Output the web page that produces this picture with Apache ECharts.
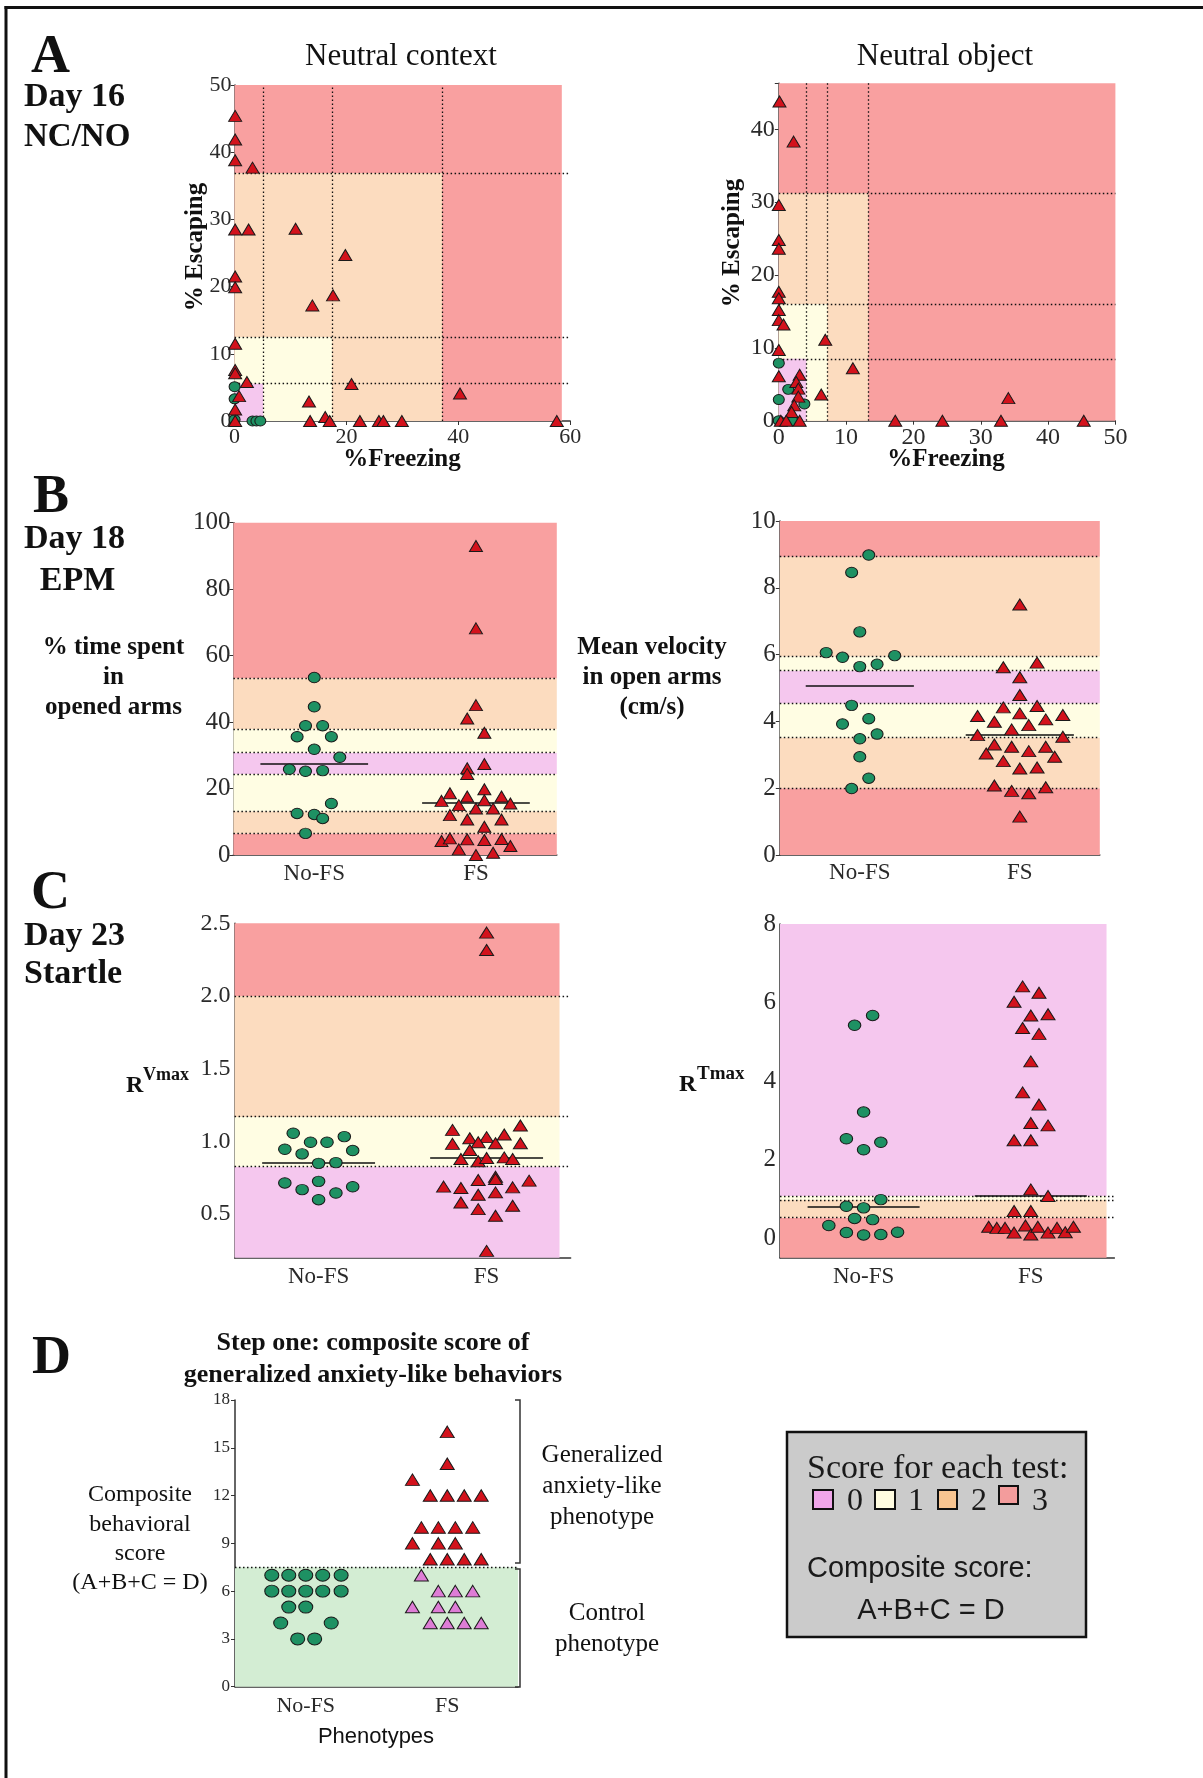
<!DOCTYPE html>
<html><head><meta charset="utf-8">
<script src="https://cdn.jsdelivr.net/npm/echarts/dist/echarts.min.js"></script>
<style>html,body{margin:0;padding:0;background:#fff}#c{width:1203px;height:1778px}</style>
</head><body><div id="c"></div>
<script>
// ---------------- DATA ----------------
const groups = ['No-FS', 'FS'];

// A – Neutral context: [ %Freezing, %Escaping ]
const ctxFS = [[0.1,45.4],[0.1,41.9],[0.1,38.8],[3.2,37.7],[0.1,28.5],[2.5,28.5],[10.9,28.6],[19.8,24.7],[0.1,21.5],[0.1,19.9],[17.6,18.7],[13.9,17.2],[0.1,11.5],[0.1,7.6],[0.1,7.1],[2.2,5.8],[20.9,5.5],[0.8,3.7],[13.3,2.9],[40.3,4.1],[0.1,1.7],[0.1,0],[13.5,0],[16.2,0.6],[17.0,0],[22.4,0],[25.8,0],[26.6,0],[29.9,0],[57.6,0]];
const ctxNoFS = [[0,5.1],[0,3.3],[0,0.2],[3.2,0],[3.9,0],[4.6,0]];
const ctxFreezeCuts = [5.1, 17.4, 37.1];
const ctxEscapeCuts = [5.55, 12.5, 36.9];

// A – Neutral object
const objFS = [[0.1,43.8],[2.2,38.3],[0,29.6],[0,24.8],[0,23.6],[0,17.7],[0,16.8],[0,15.2],[0,13.8],[0.7,13.2],[0,9.7],[6.9,11.1],[11.0,7.2],[0,6.1],[3.1,6.3],[2.6,5.3],[2.9,4.4],[6.3,3.6],[2.9,3.3],[2.3,2.1],[1.9,1.2],[34.1,3.1],[17.3,0],[24.3,0],[33.0,0],[45.3,0],[0.3,0],[1.1,0],[3.1,0]];
const objNoFS = [[0,7.9],[1.4,4.3],[0,2.9],[3.8,2.3],[0,0],[2,0]];
const objFreezeCuts = [4.1, 7.2, 13.3];
const objEscapeCuts = [8.5, 16.0, 31.2];

// B – EPM % time in open arms
const epmTimeNoFS = [53.4,44.6,38.9,38.9,35.6,35.6,31.8,29.4,25.8,25.2,25.4,15.5,12.5,12.2,11.0,6.5];
const epmTimeNoFSJit = [0,0,-0.054,0.052,-0.106,0.106,0,0.158,-0.154,-0.054,0.052,0.106,-0.106,0,0.052,-0.054];
const epmTimeFS = [93.0,68.2,45.1,41.1,36.8,27.4,26.1,24.4,19.8,18.6,17.6,17.6,16.3,16.5,15.0,15.5,14.0,14.0,12.0,10.7,10.7,8.5,4.2,5.0,4.7,4.5,4.8,2.7,1.7,0.7,0.0];
const epmTimeFSJit = [0,0,0,-0.054,0.052,0.052,-0.054,-0.054,0.052,-0.161,-0.054,0.158,-0.213,0.052,-0.106,0.213,0,0.106,-0.161,-0.054,0.158,0.052,-0.213,-0.161,-0.054,0.052,0.158,0.213,-0.106,0.106,0];
const epmTimeMeans = [27.6, 15.7];
const epmTimeCuts = [6.5, 13.2, 24.4, 30.8, 37.9, 53.2];
const epmScores = [3,2,1,0,1,2,3];

// B – EPM mean velocity
const epmVelNoFS = [8.98,8.46,6.68,6.06,5.92,5.97,5.64,5.71,4.48,4.08,3.92,3.62,3.48,2.94,2.30,1.99];
const epmVelNoFSJit = [0.056,-0.051,0,-0.21,-0.108,0.218,0,0.108,-0.051,0.056,-0.108,0.108,0,0,0.056,-0.051];
const epmVelFS = [7.5,5.62,5.76,5.32,4.79,4.42,4.46,4.16,4.19,4.24,3.99,4.06,3.89,3.76,3.59,3.54,3.31,3.24,3.24,3.11,3.04,2.94,2.81,2.59,2.62,2.08,2.03,1.92,1.85,1.15];
const epmVelFSJit = [0,-0.103,0.108,0,0,-0.103,0.108,-0.264,0.269,0,-0.159,0.162,0.056,-0.051,-0.264,0.269,-0.159,-0.051,0.162,0.056,-0.21,0.218,-0.103,0,0.108,-0.159,0.162,-0.051,0.056,0];
const epmVelMeans = [5.08, 3.61];
const epmVelCuts = [2.0, 3.52, 4.54, 5.52, 5.94, 8.93];

// C – Startle R Vmax
const vmaxNoFS = [1.056,0.994,0.994,1.033,0.946,0.937,0.914,0.849,0.854,0.714,0.725,0.688,0.668,0.645,0.599];
const vmaxNoFSJit = [-0.151,-0.048,0.050,0.153,-0.201,0.203,-0.098,0,0.103,-0.201,0,0.203,-0.098,0.103,0];
const vmaxFS = [2.436,2.316,1.109,1.079,1.047,1.029,1.022,0.994,0.983,0.987,0.987,0.941,0.879,0.863,0.886,0.890,0.879,0.734,0.757,0.741,0.730,0.689,0.679,0.684,0.633,0.649,0.580,0.557,0.534,0.489,0.247];
const vmaxFSJit = [0,0,0.201,-0.203,0.105,0,-0.100,-0.050,-0.203,0.053,0.201,-0.100,-0.153,-0.050,0,0.105,0.155,-0.050,0.053,0.053,0.253,-0.256,-0.153,0.155,-0.050,0.053,-0.153,0.155,-0.050,0.053,0];
const vmaxMeans = [0.854, 0.886];
const vmaxCuts = [0.826, 1.167, 2.0];
const vmaxScores = [0,1,2,3];

// C – Startle R Tmax
const tmaxNoFS = [5.67,5.42,3.21,2.53,2.44,2.25,0.98,0.81,0.77,0.50,0.47,0.32,0.14,0.08,0.09,0.15];
const tmaxNoFSJit = [0.054,-0.054,0,-0.103,0.103,0,0.103,-0.103,0,-0.054,0.054,-0.208,-0.103,0,0.103,0.203];
const tmaxFS = [6.41,6.25,6.02,5.67,5.70,5.35,5.20,4.50,3.71,3.40,2.93,2.87,2.49,2.49,1.24,1.07,0.69,0.69,0.29,0.26,0.26,0.14,0.32,0.09,0.29,0.14,0.26,0.15,0.29];
const tmaxFSJit = [-0.049,0.049,-0.100,0,0.103,-0.049,0.049,0,-0.049,0.049,0,0.103,-0.100,0,0,0.103,-0.100,0,-0.252,-0.203,-0.154,-0.100,-0.032,0,0.042,0.103,0.157,0.206,0.255];
const tmaxMeans = [0.80, 1.08];
const tmaxCuts = [0.52, 0.97, 1.07];
const tmaxScores = [3,2,1,0];

// D – composite score
const compNoFS = [7,7,7,7,7,6,6,6,6,6,5,5,4,4,3,3];
const compNoFSJit = [-0.24,-0.12,0,0.12,0.25,-0.24,-0.12,0,0.12,0.25,-0.12,0,-0.177,0.18,-0.057,0.063];
const compFSHigh = [16,14,13,12,12,12,12,10,10,10,10,9,9,9,8,8,8,8];
const compFSHighJit = [0,0,-0.246,-0.12,0,0.12,0.24,-0.183,-0.063,0.057,0.18,-0.246,-0.063,0.057,-0.12,0,0.12,0.24];
const compFSLow = [7,6,6,6,5,5,5,4,4,4,4];
const compFSLowJit = [-0.183,-0.063,0.057,0.18,-0.246,-0.063,0.057,-0.12,0,0.12,0.24];
const compCut = 7.5;

// ---------------- STYLE ----------------
const SERIF = '"Liberation Serif","Times New Roman",serif';
const SANS = '"Liberation Sans",Arial,sans-serif';
const INK = '#111', TICK = '#2a2a2a', AXIS = '#333';
const ZONE = ['#F5C7EE', '#FFFDE3', '#FCDCBF', '#F9A0A0']; // score 0..3
const GREEN_FILL = '#1E9163', RED_FILL = '#D3121C', PINK_FILL = '#DE7DD6', CONTROL_BG = '#D3EDD3';

const grids = [], xAxes = [], yAxes = [], series = [];
function onStep(v, s) { return Math.abs(v / s - Math.round(v / s)) < 1e-6; }
function axis(gi, min, max, interval, o) {
  return {
    type: 'value', gridIndex: gi, min, max, interval,
    axisLine: { show: true, onZero: false, lineStyle: { color: AXIS, width: 1.5 } },
    axisTick: { show: o.tick !== false, length: 4, lineStyle: { color: AXIS, width: 1 } },
    splitLine: { show: false },
    axisLabel: { margin: o.margin, fontFamily: SERIF, fontSize: o.size, color: TICK, formatter: o.fmt }
  };
}
const stepFmt = (s, d) => v => onStep(v, s) ? (d ? v.toFixed(d) : String(Math.round(v))) : '';
const catFmt = v => (onStep(v, 1) && v > -0.1 && v < 1.1) ? groups[Math.round(v)] : '';
function jit(center, vals, offs) { return vals.map((v, i) => [center + offs[i], v]); }
function pts(gi, data, symbol, size, fill) {
  return { type: 'scatter', xAxisIndex: gi, yAxisIndex: gi, data, symbol, symbolSize: size, z: 5, silent: true,
    itemStyle: { color: fill, borderColor: '#1a1a1a', borderWidth: 1, opacity: 1 } };
}
function zoneSeries(gi, data) {
  return { type: 'scatter', xAxisIndex: gi, yAxisIndex: gi, data: [], z: 1, silent: true,
    markArea: { silent: true, itemStyle: { opacity: 1, borderWidth: 0 }, data } };
}
function cutSeries(gi, hCuts, vCuts) {
  return { type: 'scatter', xAxisIndex: gi, yAxisIndex: gi, data: [], z: 3, silent: true,
    markLine: { silent: true, symbol: ['none', 'none'], label: { show: false }, animation: false,
      lineStyle: { type: [1.5, 2.5], color: '#111', width: 1.3 },
      data: [...hCuts.map(v => ({ yAxis: v })), ...vCuts.map(v => ({ xAxis: v }))] } };
}
function meanSeries(gi, means, half) {
  return { type: 'scatter', xAxisIndex: gi, yAxisIndex: gi, data: [], z: 4, silent: true,
    markLine: { silent: true, symbol: ['none', 'none'], label: { show: false }, animation: false,
      lineStyle: { type: 'solid', color: '#111', width: 1.6 },
      data: means.map((m, i) => [{ coord: [i - half, m] }, { coord: [i + half, m] }]) } };
}
function nestedZones(xc, yc, xMax, yMax) {
  const d = [[{ xAxis: 0, yAxis: 0, itemStyle: { color: ZONE[3] } }, { xAxis: xMax, yAxis: yMax }]];
  for (let s = 2; s >= 0; s--) d.push([{ xAxis: 0, yAxis: 0, itemStyle: { color: ZONE[s] } }, { xAxis: xc[s], yAxis: yc[s] }]);
  return d;
}
function bandZones(cuts, scores, yMin, yMax, xMin, xMax) {
  const e = [yMin, ...cuts, yMax];
  return scores.map((s, i) => [{ xAxis: xMin, yAxis: e[i], itemStyle: { color: ZONE[s] } }, { xAxis: xMax, yAxis: e[i + 1] }]);
}
function catX(gi, size, margin) { return axis(gi, -0.5, 1.5, 0.5, { size, margin, fmt: catFmt, tick: false }); }

// ---- A left: neutral context
let g = grids.push({ left: 234.6, top: 85, width: 335.6, height: 336 }) - 1;
xAxes.push(axis(g, 0, 60, 20, { size: 22, margin: 5, fmt: stepFmt(20) }));
yAxes.push(axis(g, 0, 50, 10, { size: 22, margin: 3, fmt: stepFmt(10) }));
series.push(zoneSeries(g, nestedZones(ctxFreezeCuts, ctxEscapeCuts, 58.5, 50)));
series.push(cutSeries(g, ctxEscapeCuts, ctxFreezeCuts));
series.push(pts(g, ctxNoFS, 'circle', [11, 10], GREEN_FILL));
series.push(pts(g, ctxFS, 'triangle', [13, 11], RED_FILL));

// ---- A right: neutral object
g = grids.push({ left: 778.8, top: 83.3, width: 336.6, height: 337.4 }) - 1;
xAxes.push(axis(g, 0, 50, 10, { size: 24, margin: 5, fmt: stepFmt(10) }));
yAxes.push(axis(g, 0, 46.3, 10, { size: 24, margin: 4, fmt: stepFmt(10) }));
series.push(zoneSeries(g, nestedZones(objFreezeCuts, objEscapeCuts, 50, 46.3)));
series.push(cutSeries(g, objEscapeCuts, objFreezeCuts));
series.push(pts(g, objNoFS, 'circle', [11, 10], GREEN_FILL));
series.push(pts(g, objFS, 'triangle', [13, 11], RED_FILL));

// ---- B left: % time in open arms
g = grids.push({ left: 233.4, top: 522.7, width: 323.4, height: 332.3 }) - 1;
xAxes.push(catX(g, 23, 7));
yAxes.push(axis(g, 0, 100, 20, { size: 25, margin: 3, fmt: stepFmt(20) }));
series.push(zoneSeries(g, bandZones(epmTimeCuts, epmScores, 0, 100, -0.5, 1.5)));
series.push(cutSeries(g, epmTimeCuts, []));
series.push(meanSeries(g, epmTimeMeans, 0.333));
series.push(pts(g, jit(0, epmTimeNoFS, epmTimeNoFSJit), 'circle', [12, 10.5], GREEN_FILL));
series.push(pts(g, jit(1, epmTimeFS, epmTimeFSJit), 'triangle', [13, 11], RED_FILL));

// ---- B right: mean velocity
g = grids.push({ left: 779.8, top: 521, width: 320, height: 334 }) - 1;
xAxes.push(catX(g, 23, 6));
yAxes.push(axis(g, 0, 10, 2, { size: 25, margin: 4, fmt: stepFmt(2) }));
series.push(zoneSeries(g, bandZones(epmVelCuts, epmScores, 0, 10, -0.5, 1.5)));
series.push(cutSeries(g, epmVelCuts, []));
series.push(meanSeries(g, epmVelMeans, 0.338));
series.push(pts(g, jit(0, epmVelNoFS, epmVelNoFSJit), 'circle', [12, 10.5], GREEN_FILL));
series.push(pts(g, jit(1, epmVelFS, epmVelFSJit), 'triangle', [14, 11], RED_FILL));

// ---- C left: R Vmax
g = grids.push({ left: 234.6, top: 923.3, width: 336, height: 334.4 }) - 1;
xAxes.push(catX(g, 23, 8));
yAxes.push(axis(g, 0.2, 2.5, 0.1, { size: 24, margin: 4, fmt: stepFmt(0.5, 1), tick: false }));
series.push(zoneSeries(g, bandZones(vmaxCuts, vmaxScores, 0.2, 2.5, -0.5, 1.434)));
series.push(cutSeries(g, vmaxCuts, []));
series.push(meanSeries(g, vmaxMeans, 0.336));
series.push(pts(g, jit(0, vmaxNoFS, vmaxNoFSJit), 'circle', [12.5, 10.5], GREEN_FILL));
series.push(pts(g, jit(1, vmaxFS, vmaxFSJit), 'triangle', [14, 11], RED_FILL));

// ---- C right: R Tmax
g = grids.push({ left: 780, top: 924, width: 334.4, height: 333.7 }) - 1;
xAxes.push(catX(g, 23, 8));
yAxes.push(axis(g, -0.5, 8, 0.5, { size: 25, margin: 4, fmt: stepFmt(2), tick: false }));
series.push(zoneSeries(g, bandZones(tmaxCuts, tmaxScores, -0.5, 8, -0.5, 1.453)));
series.push(cutSeries(g, tmaxCuts, []));
series.push(meanSeries(g, tmaxMeans, 0.335));
series.push(pts(g, jit(0, tmaxNoFS, tmaxNoFSJit), 'circle', [12.5, 10.5], GREEN_FILL));
series.push(pts(g, jit(1, tmaxFS, tmaxFSJit), 'triangle', [14, 11], RED_FILL));

// ---- D: composite score
g = grids.push({ left: 235, top: 1400, width: 283, height: 286.7 }) - 1;
xAxes.push(catX(g, 22, 9));
yAxes.push(axis(g, 0, 18, 3, { size: 17, margin: 5, fmt: stepFmt(3) }));
series.push({ type: 'scatter', xAxisIndex: g, yAxisIndex: g, data: [], z: 1, silent: true,
  markArea: { silent: true, itemStyle: { opacity: 1, borderWidth: 0 },
    data: [[{ xAxis: -0.5, yAxis: 0, itemStyle: { color: CONTROL_BG } }, { xAxis: 1.5, yAxis: compCut }]] } });
series.push(cutSeries(g, [compCut], []));
series.push(pts(g, jit(0, compNoFS, compNoFSJit), 'circle', [14, 12], GREEN_FILL));
series.push(pts(g, jit(1, compFSHigh, compFSHighJit), 'triangle', [14, 11.5], RED_FILL));
series.push(pts(g, jit(1, compFSLow, compFSLowJit), 'triangle', [14, 11.5], PINK_FILL));

// ---------------- TEXT & DECORATION ----------------
const T = (text, x, y, font, o = {}) => ({ type: 'text', x, y, z: 100, silent: true, rotation: o.rot || 0,
  style: { text, font, fill: o.fill || INK, align: o.align || 'center', verticalAlign: 'middle', lineHeight: o.lh } });
const bS = n => `bold ${n}px ${SERIF}`, rS = n => `${n}px ${SERIF}`, rN = n => `${n}px ${SANS}`;
const graphics = [
  { type: 'line', z: 100, shape: { x1: 4.5, y1: 7.5, x2: 1203, y2: 7.5 }, style: { stroke: '#111', lineWidth: 3 } },
  { type: 'line', z: 100, shape: { x1: 6, y1: 6, x2: 6, y2: 1778 }, style: { stroke: '#111', lineWidth: 3 } },
  T('A', 31, 58, bS(54), { align: 'left' }),
  T('Day 16', 24, 97, bS(34), { align: 'left' }),
  T('NC/NO', 24, 137, bS(33), { align: 'left' }),
  T('B', 33, 498, bS(54), { align: 'left' }),
  T('Day 18', 24, 539, bS(34), { align: 'left' }),
  T('EPM', 77.5, 581, bS(34)),
  T('C', 31, 894, bS(54), { align: 'left' }),
  T('Day 23', 24, 936, bS(34), { align: 'left' }),
  T('Startle', 24, 974, bS(34), { align: 'left' }),
  T('D', 32, 1359, bS(54), { align: 'left' }),
  T('Neutral context', 401, 57, rS(31)),
  T('Neutral object', 945, 57, rS(31)),
  T('% Escaping', 196, 247, bS(25), { rot: Math.PI / 2 }),
  T('%Freezing', 402, 460, bS(25)),
  T('% Escaping', 733, 243, bS(25), { rot: Math.PI / 2 }),
  T('%Freezing', 946, 460, bS(25)),
  T('% time spent\nin\nopened arms', 113.5, 678, bS(25), { lh: 30 }),
  T('Mean velocity\nin open arms\n(cm/s)', 652, 678, bS(25), { lh: 30 }),
  T('R', 126, 1086, bS(24), { align: 'left' }),
  T('Vmax', 143, 1075, bS(18), { align: 'left' }),
  T('R', 679, 1085, bS(24), { align: 'left' }),
  T('Tmax', 697, 1074, bS(19), { align: 'left' }),
  T('Step one: composite score of\ngeneralized anxiety-like behaviors', 373, 1359, bS(26), { lh: 32 }),
  T('Composite\nbehavioral\nscore\n(A+B+C = D)', 140, 1539, rS(24), { lh: 29.3 }),
  T('Generalized\nanxiety-like\nphenotype', 602, 1486, rS(25), { lh: 31 }),
  T('Control\nphenotype', 607, 1628.5, rS(25), { lh: 31 }),
  T('Phenotypes', 376, 1737, rN(22)),
  { type: 'polyline', z: 100, shape: { points: [[515, 1400], [520, 1400], [520, 1563], [515, 1563]] }, style: { stroke: '#333', lineWidth: 1.5, fill: null } },
  { type: 'polyline', z: 100, shape: { points: [[515, 1569], [520, 1569], [520, 1687], [515, 1687]] }, style: { stroke: '#333', lineWidth: 1.5, fill: null } },
  // legend box
  { type: 'rect', z: 90, shape: { x: 787, y: 1432, width: 299, height: 205 }, style: { fill: '#CBCBCB', stroke: '#111', lineWidth: 2.5 } },
  T('Score for each test:', 807, 1469, rS(34), { align: 'left', fill: '#1a1a1a' }),
  { type: 'rect', z: 100, shape: { x: 813, y: 1490, width: 20, height: 19 }, style: { fill: '#F0A6EA', stroke: '#111', lineWidth: 2 } },
  { type: 'rect', z: 100, shape: { x: 875, y: 1490, width: 20, height: 19 }, style: { fill: '#FFFCE0', stroke: '#111', lineWidth: 2 } },
  { type: 'rect', z: 100, shape: { x: 938, y: 1490, width: 19, height: 19 }, style: { fill: '#F8C591', stroke: '#111', lineWidth: 2 } },
  { type: 'rect', z: 100, shape: { x: 999, y: 1486, width: 19, height: 18 }, style: { fill: '#F39C9C', stroke: '#111', lineWidth: 2 } },
  T('0', 855, 1502, rS(32), { fill: '#1a1a1a' }),
  T('1', 916, 1502, rS(32), { fill: '#1a1a1a' }),
  T('2', 979, 1502, rS(32), { fill: '#1a1a1a' }),
  T('3', 1040, 1502, rS(32), { fill: '#1a1a1a' }),
  T('Composite score:', 807, 1569, rN(29), { align: 'left', fill: '#1a1a1a' }),
  T('A+B+C = D', 931, 1611, rN(29), { fill: '#1a1a1a' })
];

const chart = echarts.init(document.getElementById('c'), null, { renderer: 'canvas' });
chart.setOption({
  animation: false,
  backgroundColor: '#fff',
  grid: grids,
  xAxis: xAxes,
  yAxis: yAxes,
  series,
  graphic: { elements: graphics }
});
</script></body></html>
